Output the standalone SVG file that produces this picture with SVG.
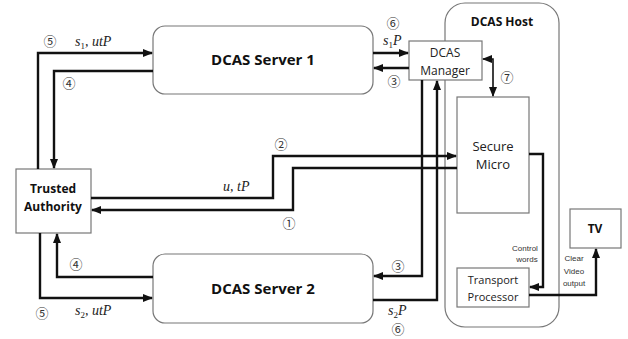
<svg xmlns="http://www.w3.org/2000/svg" width="628" height="339" viewBox="0 0 628 339">
<defs>
<marker id="ah" markerUnits="userSpaceOnUse" markerWidth="10" markerHeight="8" refX="9" refY="4" orient="auto-start-reverse">
<path d="M0,0 L10,4 L0,8 Z" fill="#111"/>
</marker>
<style>
.box{fill:#fff;stroke:#777;stroke-width:1.2}
.conn{fill:none;stroke:#111;stroke-width:2.4;stroke-linejoin:miter}
.thin{fill:none;stroke:#111;stroke-width:1.6}
.bold{font-family:"Open Sans","Liberation Sans",sans-serif;font-weight:bold;fill:#111;text-anchor:middle}
.norm{font-family:"Open Sans","Liberation Sans",sans-serif;fill:#222;text-anchor:middle}
.math{font-family:"Liberation Serif",serif;font-style:italic;font-size:14px;fill:#222}
.num{font-family:"Noto Sans CJK JP","DejaVu Sans",sans-serif;font-size:13px;fill:#333;text-anchor:middle}
.tiny{font-family:"Liberation Sans",sans-serif;font-size:8px;fill:#333;text-anchor:middle}
</style>
</defs>
<rect width="628" height="339" fill="#fff"/>

<g id="dcas-host">
<rect class="box" x="445" y="3" width="114" height="324" rx="20"/>
<text class="bold" x="502" y="26" font-size="12">DCAS Host</text>
</g>

<g id="dcas-server-1">
<rect class="box" x="153" y="26" width="220" height="68" rx="12"/>
<text class="bold" x="263" y="65" font-size="15">DCAS Server 1</text>
</g>

<g id="dcas-server-2">
<rect class="box" x="153" y="254" width="220" height="69" rx="12"/>
<text class="bold" x="263" y="294" font-size="15">DCAS Server 2</text>
</g>

<g id="trusted-authority">
<rect class="box" x="16" y="169" width="75" height="64"/>
<text class="bold" x="53" y="193" font-size="12">Trusted</text>
<text class="bold" x="53" y="211" font-size="12">Authority</text>
</g>

<g id="dcas-manager">
<rect class="box" x="409" y="41" width="73" height="39"/>
<text class="norm" x="445" y="57" font-size="12">DCAS</text>
<text class="norm" x="445" y="75" font-size="12">Manager</text>
</g>

<g id="secure-micro">
<rect class="box" x="457" y="97" width="72" height="116"/>
<text class="norm" x="493" y="151" font-size="13">Secure</text>
<text class="norm" x="493" y="169" font-size="13">Micro</text>
</g>

<g id="transport-processor">
<rect class="box" x="457" y="268" width="72" height="39"/>
<text class="norm" x="493" y="284" font-size="11">Transport</text>
<text class="norm" x="493" y="301" font-size="11">Processor</text>
</g>

<g id="tv">
<rect class="box" x="570" y="209" width="51" height="39"/>
<text class="bold" x="595" y="233" font-size="12">TV</text>
</g>

<g id="connectors">
<path class="conn" d="M38,169 V53 H152" marker-end="url(#ah)"/>
<path class="conn" d="M153,71 H54 V168" marker-end="url(#ah)"/>
<path class="conn" d="M153,277 H57 V234" marker-end="url(#ah)"/>
<path class="conn" d="M40,233 V298 H152" marker-end="url(#ah)"/>
<path class="conn" d="M91,198 H273 V156 H456" marker-end="url(#ah)"/>
<path class="conn" d="M457,168 H293 V210 H92" marker-end="url(#ah)"/>
<path class="conn" d="M373,53 H408" marker-end="url(#ah)"/>
<path class="conn" d="M409,68 H374" marker-end="url(#ah)"/>
<path class="conn" d="M422,80 V276 H374" marker-end="url(#ah)"/>
<path class="conn" d="M373,300 H437 V81" marker-end="url(#ah)"/>
<path class="thin" d="M483,59 H493 V96" marker-start="url(#ah)" marker-end="url(#ah)"/>
<path class="conn" d="M529,154 H543 V287 H530" marker-end="url(#ah)"/>
<path class="conn" d="M529,295 H596 V249" marker-end="url(#ah)"/>
</g>

<g id="labels">
<text class="num" x="50" y="46">⑤</text>
<text class="math" x="75" y="46">s<tspan font-style="normal" font-size="9" dy="3">1</tspan><tspan dy="-3">, utP</tspan></text>
<text class="num" x="69" y="88">④</text>
<text class="num" x="76" y="269">④</text>
<text class="num" x="42" y="318">⑤</text>
<text class="math" x="75" y="315">s<tspan font-style="normal" font-size="9" dy="3">2</tspan><tspan dy="-3">, utP</tspan></text>
<text class="num" x="281" y="149">②</text>
<text class="math" x="223" y="191">u, tP</text>
<text class="num" x="289" y="228">①</text>
<text class="num" x="393" y="28">⑥</text>
<text class="math" x="383" y="45">s<tspan font-style="normal" font-size="9" dy="3">1</tspan><tspan dy="-3">P</tspan></text>
<text class="num" x="394" y="86">③</text>
<text class="num" x="507" y="82">⑦</text>
<text class="num" x="398" y="271">③</text>
<text class="math" x="388" y="315">s<tspan font-style="normal" font-size="9" dy="3">2</tspan><tspan dy="-3">P</tspan></text>
<text class="num" x="398" y="334">⑥</text>
<text class="tiny" x="525" y="251">Control</text>
<text class="tiny" x="527" y="262">words</text>
<text class="tiny" x="574" y="261">Clear</text>
<text class="tiny" x="574" y="274">Video</text>
<text class="tiny" x="574" y="286">output</text>
</g>
</svg>
